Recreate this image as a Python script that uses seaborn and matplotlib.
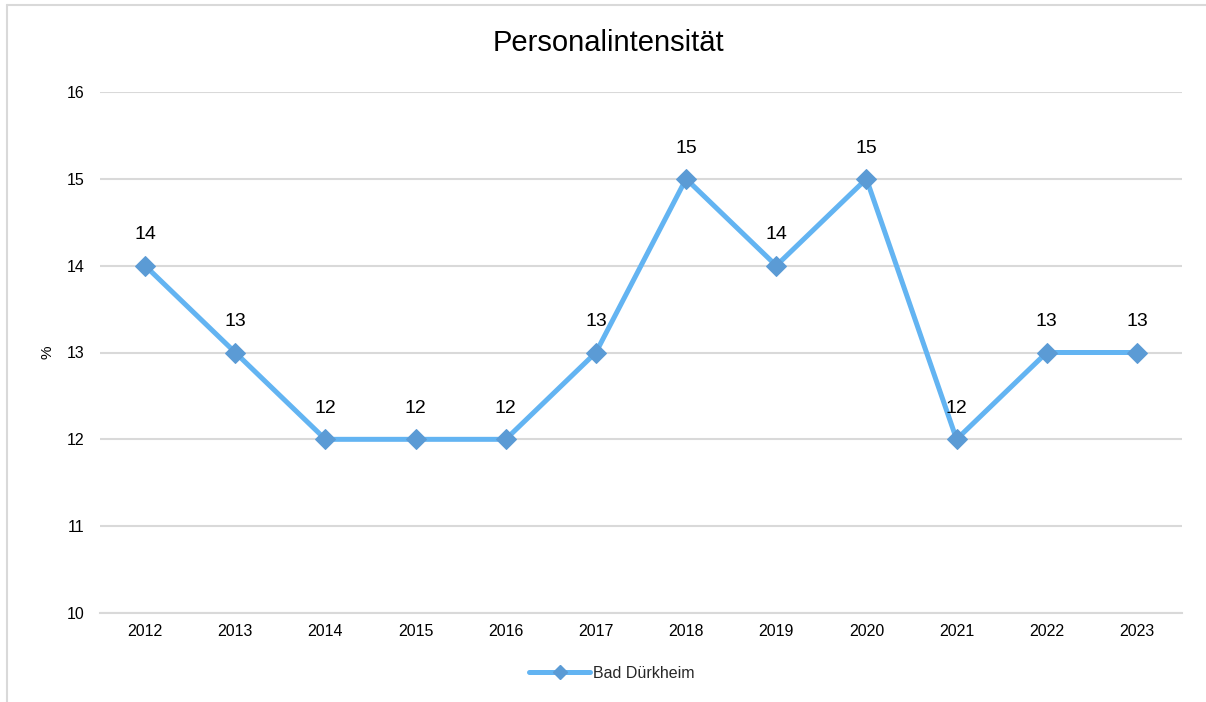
import matplotlib
matplotlib.use('Agg')
import matplotlib.pyplot as plt
import matplotlib.lines as mlines
import numpy as np
import pandas as pd
import seaborn as sns

# Data
years = ['2012', '2013', '2014', '2015', '2016', '2017',
         '2018', '2019', '2020', '2021', '2022', '2023']
values = [14, 13, 12, 12, 12, 13, 15, 14, 15, 12, 13, 13]
series_name = 'Bad Dürkheim'
title = 'Personalintensität'
y_label = '%'

LINE_COLOR = '#63B4F2'
MARKER_COLOR = '#5B9BD5'
GRID_COLOR = '#D9D9D9'

sns.set_theme(style='whitegrid')
plt.rcParams['font.family'] = ['Liberation Sans', 'DejaVu Sans']

df = pd.DataFrame({'Jahr': years, 'Wert': values})

fig = plt.figure(figsize=(12.06, 7.02), dpi=100)
ax = fig.add_axes([100 / 1206, 1 - 613 / 702, 1082 / 1206, (613 - 92) / 702])

sns.lineplot(data=df, x='Jahr', y='Wert', ax=ax, color=LINE_COLOR,
             linewidth=3.6, marker='D', markersize=10,
             markerfacecolor=MARKER_COLOR, markeredgecolor=MARKER_COLOR,
             legend=False, zorder=3)

for i, v in enumerate(values):
    ax.annotate(str(v), (i, v), xytext=(0, 16), textcoords='offset points',
                ha='center', va='bottom', fontsize=14, color='black')

ax.set_xlim(-0.5, len(years) - 0.5)
ax.set_ylim(10, 16)
ax.set_yticks(np.arange(10, 17, 1))
ax.set_xlabel('')
ax.set_ylabel('')
ax.tick_params(axis='both', labelsize=11.5, colors='black', length=0)
ax.tick_params(axis='y', pad=11)
ax.tick_params(axis='x', pad=8)

ax.grid(axis='x', visible=False)
ax.grid(axis='y', color=GRID_COLOR, linewidth=1.5)
for side in ['left', 'right', 'top']:
    ax.spines[side].set_visible(False)
ax.spines['bottom'].set_color(GRID_COLOR)
ax.spines['bottom'].set_linewidth(1.5)

fig.text(48 / 1206, 1 - 352 / 702, y_label, rotation=90, ha='center', va='center',
         fontsize=11, color='black')

fig.suptitle(title, fontsize=21, x=608 / 1206, y=1 - 43 / 702, va='center', color='black')

handle = mlines.Line2D([], [], color=LINE_COLOR, linewidth=3.6, marker='D',
                       markersize=7, markerfacecolor=MARKER_COLOR,
                       markeredgecolor=MARKER_COLOR)
fig.legend([handle], [series_name], loc='center', bbox_to_anchor=(612 / 1206, 1 - 673 / 702),
           frameon=False, fontsize=11.5, handlelength=3.8, handletextpad=0.2)

# outer chart border
fig.add_artist(mlines.Line2D([7 / 1206, 7 / 1206], [0, 1 - 5 / 702],
                             color=GRID_COLOR, linewidth=1.5, transform=fig.transFigure))
fig.add_artist(mlines.Line2D([7 / 1206, 1], [1 - 5 / 702, 1 - 5 / 702],
                             color=GRID_COLOR, linewidth=1.5, transform=fig.transFigure))

fig.savefig('out.png', dpi=100)
